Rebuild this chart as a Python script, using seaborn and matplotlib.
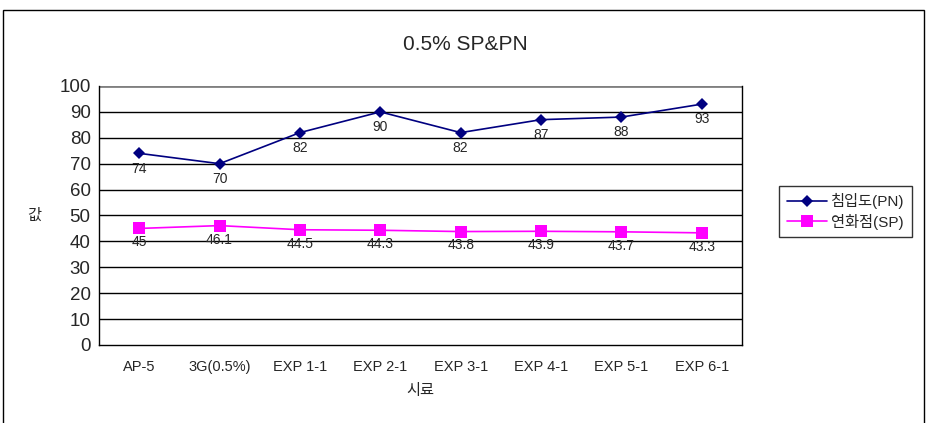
import numpy as np
import pandas as pd
import seaborn as sns
import matplotlib.pyplot as plt
from matplotlib.patches import Rectangle
from matplotlib.ticker import FixedLocator

#데이터
samples = ["AP-5", "3G(0.5%)", "EXP 1-1", "EXP 2-1", "EXP 3-1", "EXP 4-1", "EXP 5-1", "EXP 6-1"]
pn_values = [74, 70, 82, 90, 82, 87, 88, 93]
sp_values = [45, 46.1, 44.5, 44.3, 43.8, 43.9, 43.7, 43.3]
pn_name = "침입도(PN)"
sp_name = "연화점(SP)"
y_ticks = list(range(0, 101, 10))

sns.set_style("white")
plt.rcParams['font.family'] = ['Liberation Sans', 'Noto Sans CJK KR', 'DejaVu Sans']

df = pd.DataFrame({
    "x": list(range(len(samples))) * 2,
    "value": pn_values + sp_values,
    "series": [pn_name] * len(samples) + [sp_name] * len(samples),
})

fig = plt.figure(figsize=(9.4, 4.23), dpi=100)
ax = fig.add_axes([0.1053, 0.1844, 0.6840, 0.6123])

sns.lineplot(data=df, x="x", y="value", hue="series", style="series",
             palette={pn_name: "#000080", sp_name: "#FF00FF"},
             markers={pn_name: "D", sp_name: "s"}, dashes=False,
             markersize=6, linewidth=1.2, markeredgewidth=0, ax=ax)
# 마커 크기 조정
for line in ax.get_lines():
    if line.get_color() in ("#FF00FF", "#ff00ff"):
        line.set_markersize(9)

ax.set_xlim(-0.5, len(samples) - 0.5)
ax.set_ylim(0, 100)
ax.set_yticks(y_ticks)
ax.set_yticklabels([str(t) for t in y_ticks], fontsize=13.5)
ax.set_xticks(range(len(samples)))
ax.set_xticklabels(samples, fontsize=10.5)
ax.xaxis.set_minor_locator(FixedLocator(np.arange(-0.5, len(samples), 1.0)))
ax.tick_params(axis="x", which="major", length=0, pad=11)
ax.tick_params(axis="x", which="minor", length=5, direction="out", color="black", width=1)
ax.tick_params(axis="y", length=0, pad=6)

# 눈금선
for t in y_ticks[1:-1]:
    ax.axhline(t, color="black", linewidth=1, zorder=0)
ax.axhline(100, color="#808080", linewidth=2, zorder=0)

for s in ["left", "bottom", "right"]:
    ax.spines[s].set_visible(True)
    ax.spines[s].set_color("black")
    ax.spines[s].set_linewidth(1)
ax.spines["top"].set_visible(False)

# 데이터 레이블
for i, v in enumerate(pn_values):
    ax.annotate(str(v), (i, v), xytext=(0, -6), textcoords="offset points",
                ha="center", va="top", fontsize=10)
for i, v in enumerate(sp_values):
    ax.annotate(f"{v:g}", (i, v), xytext=(0, -5), textcoords="offset points",
                ha="center", va="top", fontsize=10)

ax.set_xlabel("시료", fontsize=11, labelpad=7)
ax.set_ylabel("값", fontsize=11, rotation=0, labelpad=18, va="center")

fig.text(0.495, 0.894, "0.5% SP&PN", ha="center", va="center", fontsize=15)

handles, labels = ax.get_legend_handles_labels()
leg = ax.legend(handles, labels, loc="center left", bbox_to_anchor=(0.829, 0.5),
                bbox_transform=fig.transFigure, frameon=True, fancybox=False,
                edgecolor="black", fontsize=11, handlelength=2.6, borderpad=0.5,
                labelspacing=0.3, handletextpad=0.3, borderaxespad=0)
leg.get_frame().set_linewidth(1)

# 바깥 테두리
fig.patches.append(Rectangle((0.003, -0.1), 0.98, 1.077, transform=fig.transFigure,
                             fill=False, edgecolor="black", linewidth=1))

fig.savefig("out.png", dpi=100)
